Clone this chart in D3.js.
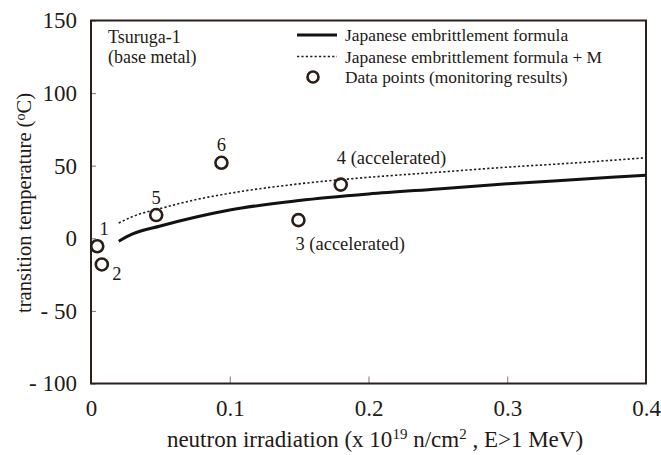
<!DOCTYPE html>
<html>
<head>
<meta charset="utf-8">
<script src="https://cdn.jsdelivr.net/npm/d3@7"></script>
</head>
<body style="margin:0">
<svg id="chart" width="661" height="455" style="font-family:'Liberation Serif'"></svg>
<script>
// ---- data ----
const xTickValues = [0, 0.1, 0.2, 0.3, 0.4];
const xTickLabels = ["0", "0.1", "0.2", "0.3", "0.4"];
const yTickValues = [150, 100, 50, 0, -50, -100];
const yTickLabels = ["150", "100", "50", "0", "- 50", "- 100"];

// Japanese embrittlement formula (solid) and formula + M (dotted)
const curveX      = [0.02, 0.03, 0.05, 0.075, 0.1, 0.15, 0.2, 0.25, 0.3, 0.35, 0.4];
const formulaY    = [-2, 3, 8.5, 14.5, 19.5, 26, 30.5, 34, 37.5, 40.5, 43.5];
const formulaMY   = [10.5, 15, 20.5, 26.5, 31, 37.5, 42, 45.5, 49, 52, 55.5];

// data points (monitoring results)
const pointX      = [0.0045, 0.0078, 0.047, 0.094, 0.1495, 0.180];
const pointY      = [-5.5, -18, 16, 52, 12.5, 37];
const pointLabels = ["1", "2", "5", "6", "3 (accelerated)", "4 (accelerated)"];

const legendLabels = ["Japanese embrittlement formula", "Japanese embrittlement formula + M", "Data points (monitoring results)"];

// ---- layout ----
const FF = '"Liberation Serif"';
const svg = d3.select("#chart");
const L = 91, R = 646, T = 20.5, B = 383.5;
const ink = "#231a16";

const x = d3.scaleLinear().domain([0, 0.4]).range([L, R]);
const y = d3.scaleLinear().domain([-100, 150]).range([B, T]);

function txt(sel, size) {
  return sel.style("font-family", FF).style("font-size", size + "px").attr("fill", ink);
}

// axes (ticks pointing inward)
const yAxis = d3.axisLeft(y).tickValues(yTickValues)
  .tickFormat((d, i) => yTickLabels[i]).tickSize(-5).tickPadding(14);
const gy = svg.append("g").attr("transform", `translate(${L},0)`).call(yAxis);
gy.attr("font-family", null).attr("font-size", null);
gy.select(".domain").remove();
gy.selectAll("line").attr("stroke", "#777").attr("stroke-width", 1);

const xAxis = d3.axisBottom(x).tickValues(xTickValues)
  .tickFormat((d, i) => xTickLabels[i]).tickSize(-7).tickPadding(16);
const gx = svg.append("g").attr("transform", `translate(0,${B})`).call(xAxis);
gx.attr("font-family", null).attr("font-size", null);
gx.select(".domain").remove();
gx.selectAll("line").attr("stroke", "#777").attr("stroke-width", 1);

txt(gx.selectAll("text"), 23);
txt(gy.selectAll("text"), 23);

// frame
svg.append("rect").attr("x", L).attr("y", T).attr("width", R - L).attr("height", B - T)
  .attr("fill", "none").attr("stroke", "#2b211c").attr("stroke-width", 2);

// curves
const line = d3.line().x(d => x(d[0])).y(d => y(d[1])).curve(d3.curveMonotoneX);
svg.append("path").datum(curveX.map((v, i) => [v, formulaMY[i]]))
  .attr("d", line).attr("fill", "none").attr("stroke", "#1e1a18")
  .attr("stroke-width", 1.6).attr("stroke-dasharray", "2.2,2.2");
svg.append("path").datum(curveX.map((v, i) => [v, formulaY[i]]))
  .attr("d", line).attr("fill", "none").attr("stroke", "#141110")
  .attr("stroke-width", 3);

// data points
svg.append("g").selectAll("circle").data(pointX).join("circle")
  .attr("cx", d => x(d)).attr("cy", (d, i) => y(pointY[i])).attr("r", 6)
  .attr("fill", "none").attr("stroke", "#2a1d17").attr("stroke-width", 2.6);

// point labels (offsets of the label centre relative to its point)
const labelDx = [7, 15, 0, 0, -3, -4];
const labelDy = [-18, 9, -18, -18, 23, -27];
const labelAnchor = ["middle", "middle", "middle", "middle", "start", "start"];
txt(svg.append("g").selectAll("text").data(pointLabels).join("text")
  .attr("x", (d, i) => x(pointX[i]) + labelDx[i])
  .attr("y", (d, i) => y(pointY[i]) + labelDy[i] + 6.5)
  .attr("text-anchor", (d, i) => labelAnchor[i])
  .text(d => d), 18.5);

// annotation
txt(svg.append("text").attr("x", 108).attr("y", 43).text("Tsuruga-1"), 18);
txt(svg.append("text").attr("x", 108).attr("y", 63).text("(base metal)"), 18);

// legend
const lg = svg.append("g");
const rowY = [35, 56.5, 77];
lg.append("line").attr("x1", 297).attr("x2", 337).attr("y1", rowY[0]).attr("y2", rowY[0])
  .attr("stroke", "#141110").attr("stroke-width", 3);
lg.append("line").attr("x1", 297).attr("x2", 337).attr("y1", rowY[1]).attr("y2", rowY[1])
  .attr("stroke", "#1e1a18").attr("stroke-width", 1.6).attr("stroke-dasharray", "2.2,2.2");
lg.append("circle").attr("cx", 313).attr("cy", rowY[2]).attr("r", 5.5)
  .attr("fill", "none").attr("stroke", "#2a1d17").attr("stroke-width", 2.6);
txt(lg.selectAll("text.leg").data(legendLabels).join("text").attr("class", "leg")
  .attr("x", 345).attr("y", (d, i) => rowY[i] + 6)
  .text(d => d), 17.4);

// axis titles
const xt = txt(svg.append("text").attr("x", 375).attr("y", 447).attr("text-anchor", "middle"), 23);
xt.append("tspan").text("neutron irradiation (x 10");
xt.append("tspan").attr("dy", -8).style("font-size", "15px").text("19");
xt.append("tspan").attr("dy", 8).text(" n/cm");
xt.append("tspan").attr("dy", -8).style("font-size", "15px").text("2");
xt.append("tspan").attr("dy", 8).text(" , E>1 MeV)");

const yt = txt(svg.append("text").attr("transform", "translate(31,203) rotate(-90)")
  .attr("text-anchor", "middle"), 20.5);
yt.append("tspan").text("transition temperature (");
yt.append("tspan").attr("dy", -6).style("font-size", "14px").text("o");
yt.append("tspan").attr("dy", 6).text("C)");
</script>
</body>
</html>
